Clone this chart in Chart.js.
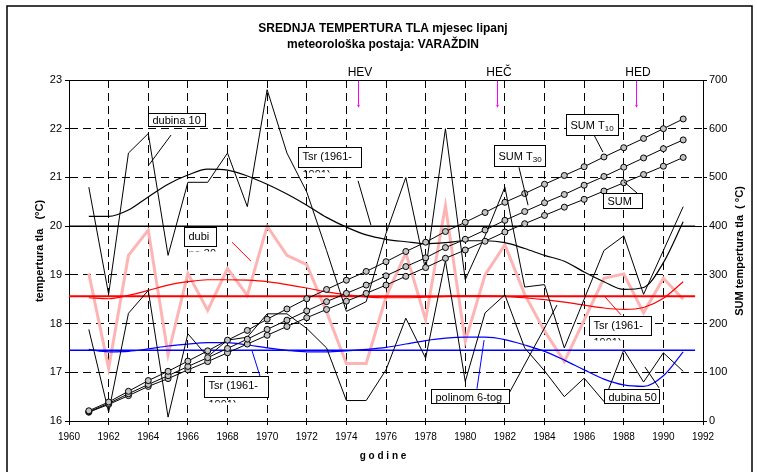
<!DOCTYPE html>
<html>
<head>
<meta charset="utf-8">
<script src="https://cdn.jsdelivr.net/npm/chart.js@4.4.0/dist/chart.umd.min.js"></script>
<style>
  html, body { margin: 0; background: #fff; }
  #wrap { width: 757px; height: 472px; }
</style>
</head>
<body>
<div id="wrap"><canvas id="tla" width="757" height="472"></canvas></div>
<script>
// godine mjerenja
const years = [1961, 1962, 1963, 1964, 1965, 1966, 1967, 1968, 1969, 1970,
               1971, 1972, 1973, 1974, 1975, 1976, 1977, 1978, 1979, 1980,
               1981, 1982, 1983, 1984, 1985, 1986, 1987, 1988, 1989, 1990, 1991];

// srednja temperatura tla u lipnju (°C) po dubinama
const dubina10 = [20.8, 18.6, 21.5, 21.9, 19.4, 20.9, 20.9, 21.5, 20.4, 22.8,
                  21.5, 20.7, 19.5, 18.25, 18.45, 19.85, 21.0, 19.1, 22.0, 18.9,
                  19.8, 20.8, 18.75, 18.8, 17.5, 18.5, 19.5, 19.8, 18.6, 19.5, 20.4];
const dubina30 = [19.03, 17.08, 19.4, 19.92, 17.36, 19.03, 18.27, 19.13, 18.58, 20.0,
                  19.4, 19.21, 18.24, 17.18, 17.18, 18.55, 19.45, 18.08, 20.42, 17.63,
                  19.0, 19.62, 18.6, 17.85, 17.22, 18.07, 18.93, 19.02, 18.22, 18.93, 18.5];
const dubina50 = [17.88, 16.18, 18.21, 18.68, 16.08, 17.79, 17.32, 17.66, 17.72, 18.2,
                  18.2, 17.9, 17.5, 16.42, 16.42, 17.05, 18.11, 17.29, 19.29, 16.81,
                  18.22, 18.59, 17.5, 17.03, 16.5, 16.88, 16.4, 17.46, 16.8, 17.4, 17.02];

// polinomi 6-tog stupnja
const trend10 = [20.2, 20.2, 20.33, 20.6, 20.86, 21.05, 21.17, 21.15, 21.03, 20.86,
                 20.66, 20.43, 20.18, 19.98, 19.82, 19.73, 19.68, 19.64, 19.66, 19.7,
                 19.7, 19.66, 19.54, 19.4, 19.28, 19.06, 18.86, 18.7, 18.74, 19.25, 20.09];
const trend30 = [18.53, 18.51, 18.58, 18.68, 18.79, 18.86, 18.9, 18.9, 18.89, 18.86,
                 18.8, 18.73, 18.65, 18.59, 18.55, 18.53, 18.53, 18.54, 18.56, 18.57,
                 18.57, 18.56, 18.53, 18.49, 18.44, 18.38, 18.32, 18.29, 18.33, 18.52, 18.86];
const trend50 = [17.47, 17.42, 17.43, 17.48, 17.54, 17.58, 17.61, 17.61, 17.56, 17.5,
                 17.45, 17.42, 17.42, 17.44, 17.47, 17.51, 17.58, 17.65, 17.7, 17.72,
                 17.72, 17.67, 17.56, 17.43, 17.25, 17.05, 16.86, 16.74, 16.71, 16.93, 17.42];

// Tsr (1961-1991)
const tsr10 = 20.0;
const tsr30 = 18.56;
const tsr50 = 17.45;
const tsrSpan = [1960, 1991.6];

// kumulativne sume (desna os)
const sumT10 = [21, 39, 61, 83, 102, 123, 144, 166, 186, 209, 230, 251, 270, 289, 307, 327,
                348, 367, 389, 408, 428, 449, 467, 486, 504, 522, 542, 561, 580, 600, 620];
const sumT30 = [19, 36, 56, 75, 93, 112, 130, 149, 168, 188, 207, 226, 245, 262, 279, 298,
                317, 335, 356, 373, 392, 412, 430, 448, 465, 484, 502, 521, 540, 559, 577];
const sumT50 = [18, 34, 52, 71, 87, 105, 122, 140, 158, 176, 194, 212, 229, 246, 262, 279,
                297, 315, 334, 351, 369, 388, 405, 422, 439, 455, 472, 489, 506, 523, 541];

// elektrane (strelice na vrhu)
const eventNames = ['HEV', 'HEČ', 'HED'];
const eventYears = [1974.6, 1981.6, 1988.6];

const FONT = '"Liberation Sans", Arial, sans-serif';
Chart.defaults.font.family = FONT;
Chart.defaults.color = '#000';

const pts = vals => years.map((yr, i) => ({ x: yr, y: vals[i] }));
const flat = v => tsrSpan.map(yr => ({ x: yr, y: v }));

// okviri s natpisima: gornji lijevi kut u (godina, °C), vodilica od-do
const notes = [
  { text: 'dubina 10', at: [1964.0, 22.32], w: 57, h: 13, lead: [1965.15, 21.87, 1964.04, 21.26], lc: '#000' },
  { text: 'dubi', more: 'na 30', at: [1965.8, 19.98], w: 32, h: 19, lead: [1968.23, 19.67, 1969.19, 19.28], lc: '#ff0000' },
  { text: 'Tsr (1961-', more: '1991)', at: [1971.56, 21.62], w: 63, h: 20, lead: [1974.59, 20.93, 1975.24, 20.02], lc: '#000' },
  { text: 'SUM T', sub: '30', at: [1981.45, 21.67], w: 51, h: 21, lead: [1982.71, 21.21, 1983.17, 20.43], lc: '#000' },
  { text: 'SUM T', sub: '10', at: [1985.09, 22.30], w: 52, h: 21, lead: [1986.5, 21.87, 1986.95, 21.52], lc: '#000' },
  { text: 'SUM', at: [1986.95, 20.68], w: 39, h: 15, lead: [1988.01, 20.91, 1988.67, 20.68], lc: '#000' },
  { text: 'Tsr (1961-', more: '1991)', at: [1966.81, 16.92], w: 64, h: 21, lead: [1969.24, 17.44, 1969.64, 16.92], lc: '#0000ff' },
  { text: 'polinom 6-tog', at: [1978.27, 16.66], w: 78, h: 14, lead: [1980.59, 16.66, 1980.95, 17.66], lc: '#0000ff',
    lead2: [1982.16, 16.53, 1984.63, 18.38] },
  { text: 'Tsr (1961-', more: '1991)', at: [1986.25, 18.16], w: 62, h: 19, lead: [1987.05, 18.55, 1987.86, 18.18], lc: '#ff0000' },
  { text: 'dubina 50', at: [1987.0, 16.66], w: 55, h: 14, lead: [1989.07, 17.11, 1989.78, 16.68], lc: '#000' }
];

function line(ctx, x, y, l, color) {
  ctx.strokeStyle = color;
  ctx.lineWidth = 1;
  ctx.beginPath();
  ctx.moveTo(x.getPixelForValue(l[0]), y.getPixelForValue(l[1]));
  ctx.lineTo(x.getPixelForValue(l[2]), y.getPixelForValue(l[3]));
  ctx.stroke();
}

const decor = {
  id: 'decor',
  beforeDatasetsDraw(chart) {
    const { ctx, chartArea: a } = chart;
    ctx.save();
    ctx.strokeStyle = '#000';
    ctx.lineWidth = 1;
    ctx.beginPath();
    ctx.moveTo(a.left, Math.round(a.top) + 0.5);
    ctx.lineTo(a.right, Math.round(a.top) + 0.5);
    ctx.stroke();
    ctx.restore();
  },
  afterDatasetsDraw(chart) {
    const { ctx, scales: { x, y } } = chart;
    ctx.save();
    notes.forEach(n => {
      line(ctx, x, y, n.lead, n.lc);
      if (n.lead2) line(ctx, x, y, n.lead2, '#000');
    });
    notes.forEach(n => {
      const left = Math.round(x.getPixelForValue(n.at[0])) + 0.5;
      const top = Math.round(y.getPixelForValue(n.at[1])) + 0.5;
      ctx.fillStyle = '#fff';
      ctx.fillRect(left, top, n.w, n.h);
      ctx.strokeStyle = '#000';
      ctx.lineWidth = 1;
      ctx.strokeRect(left, top, n.w, n.h);
      ctx.fillStyle = '#000';
      ctx.textAlign = 'left';
      ctx.textBaseline = 'alphabetic';
      ctx.font = '11px ' + FONT;
      const base = n.more ? top + 12.5 : top + n.h / 2 + 4;
      ctx.fillText(n.text, left + 4, base);
      if (n.sub) {
        const w = ctx.measureText(n.text).width;
        ctx.font = '8px ' + FONT;
        ctx.fillText(n.sub, left + 4 + w, base + 2);
        ctx.font = '11px ' + FONT;
      }
      if (n.more) {
        // drugi red je odrezan okvirom, vire samo vrhovi slova
        ctx.save();
        ctx.beginPath();
        ctx.rect(left, top + n.h + 1, n.w, 4);
        ctx.clip();
        ctx.fillText(n.more, left + 4, top + n.h + 10);
        ctx.restore();
      }
    });
    ctx.restore();
  },
  afterDraw(chart) {
    const { ctx, chartArea: a, scales: { x, y } } = chart;
    ctx.save();
    ctx.fillStyle = '#000';
    ctx.textAlign = 'center';
    ctx.textBaseline = 'alphabetic';

    ctx.font = 'bold 12px ' + FONT;
    ctx.fillText('SREDNJA TEMPERTURA TLA mjesec lipanj', 383, 32);
    ctx.fillText('meteorološka postaja: VARAŽDIN', 383, 48);

    ctx.font = 'bold 10px ' + FONT;
    ctx.fillText('g o d i n e', 383, 459);

    ctx.font = 'bold 11px ' + FONT;
    ctx.textBaseline = 'middle';
    ctx.save();
    ctx.translate(40, 251);
    ctx.rotate(-Math.PI / 2);
    ctx.fillText('tempertura tla   (°C)', 0, 0);
    ctx.restore();
    ctx.save();
    ctx.translate(740, 251);
    ctx.rotate(-Math.PI / 2);
    ctx.fillText('SUM tempertura tla  ( °C)', 0, 0);
    ctx.restore();

    // strelice elektrana
    ctx.textBaseline = 'alphabetic';
    ctx.font = '12px ' + FONT;
    const yEnd = y.getPixelForValue(22.43);
    eventYears.forEach((yr, i) => {
      const px = Math.round(x.getPixelForValue(yr)) + 0.5;
      ctx.fillStyle = '#000';
      ctx.fillText(eventNames[i], px + 1.5, 76);
      ctx.strokeStyle = '#ff00ff';
      ctx.fillStyle = '#ff00ff';
      ctx.lineWidth = 1;
      ctx.beginPath();
      ctx.moveTo(px, a.top + 1);
      ctx.lineTo(px, yEnd - 3);
      ctx.stroke();
      ctx.beginPath();
      ctx.moveTo(px - 1.5, yEnd - 3);
      ctx.lineTo(px + 1.5, yEnd - 3);
      ctx.lineTo(px, yEnd);
      ctx.closePath();
      ctx.fill();
    });

    // vanjski okvir
    ctx.strokeStyle = '#000';
    ctx.lineWidth = 1.5;
    ctx.strokeRect(7, 6, 745, 480);
    ctx.restore();
  }
};

const thin = { pointRadius: 0, borderWidth: 1, fill: false, yAxisID: 'y' };
const sumStyle = {
  yAxisID: 'y2', borderColor: '#000', borderWidth: 1, pointRadius: 3,
  pointBackgroundColor: '#c4c4c4', pointBorderColor: '#000', pointBorderWidth: 1, fill: false
};

new Chart(document.getElementById('tla'), {
  type: 'line',
  data: {
    datasets: [
      { ...thin, label: 'dubina 30', data: pts(dubina30), borderColor: '#ffb4b4', borderWidth: 3, order: 12 },
      { ...thin, label: 'Tsr 30', data: flat(tsr30), borderColor: '#ff0000', borderWidth: 2, order: 9 },
      { ...thin, label: 'polinom 30', data: pts(trend30), borderColor: '#ff0000', borderWidth: 1.2,
        cubicInterpolationMode: 'monotone', order: 8 },
      { ...thin, label: 'Tsr 50', data: flat(tsr50), borderColor: '#0000ff', borderWidth: 1.5, order: 9 },
      { ...thin, label: 'polinom 50', data: pts(trend50), borderColor: '#0000ff', borderWidth: 1.2,
        cubicInterpolationMode: 'monotone', order: 8 },
      { ...thin, label: 'Tsr 10', data: flat(tsr10), borderColor: '#000', borderWidth: 1.5, order: 9 },
      { ...thin, label: 'polinom 10', data: pts(trend10), borderColor: '#000', borderWidth: 1.2,
        cubicInterpolationMode: 'monotone', order: 8 },
      { ...thin, label: 'dubina 10', data: pts(dubina10), borderColor: '#000', order: 5 },
      { ...thin, label: 'dubina 50', data: pts(dubina50), borderColor: '#000', order: 5 },
      { ...sumStyle, label: 'SUM T10', data: pts(sumT10), order: 2 },
      { ...sumStyle, label: 'SUM T30', data: pts(sumT30), order: 2 },
      { ...sumStyle, label: 'SUM T50', data: pts(sumT50), order: 2 }
    ]
  },
  options: {
    responsive: false,
    animation: false,
    devicePixelRatio: 1,
    layout: { padding: { top: 80, left: 0, right: 0, bottom: 0 } },
    plugins: { legend: { display: false }, tooltip: { enabled: false }, title: { display: false } },
    scales: {
      x: {
        type: 'linear', min: 1960, max: 1992,
        ticks: { stepSize: 2, autoSkip: false, maxRotation: 0, padding: 6,
                 font: { size: 10 }, callback: v => String(v) },
        grid: { color: '#000', lineWidth: 1, tickLength: 4 },
        border: { color: '#000', width: 1, dash: [8, 5] },
        afterFit: s => { s.height = 51; }
      },
      y: {
        position: 'left', min: 16, max: 23,
        ticks: { stepSize: 1, padding: 3, font: { size: 11 } },
        grid: { color: '#000', lineWidth: 1, tickLength: 4 },
        border: { color: '#000', width: 1, dash: [8, 5] },
        afterFit: s => { s.width = 69; }
      },
      y2: {
        position: 'right', min: 0, max: 700,
        ticks: { stepSize: 100, padding: 2, font: { size: 11 } },
        grid: { drawOnChartArea: false, color: '#000', tickLength: 4 },
        border: { color: '#000', width: 1 },
        afterFit: s => { s.width = 54; }
      }
    }
  },
  plugins: [decor]
});
</script>
</body>
</html>
